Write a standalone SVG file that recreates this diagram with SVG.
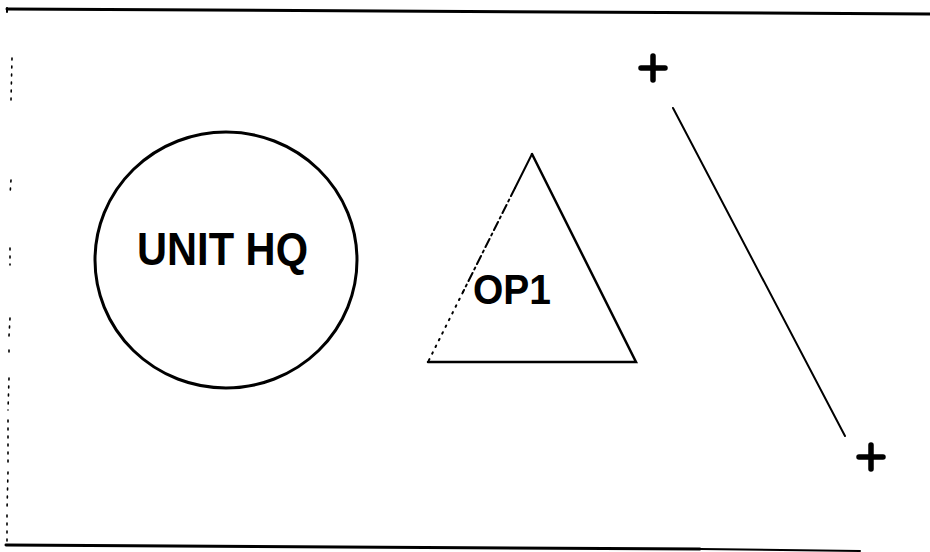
<svg xmlns="http://www.w3.org/2000/svg" width="930" height="552" viewBox="0 0 930 552">
<style>
.ln{stroke:#000;fill:none;stroke-linecap:round}
.lbl{font-family:"Liberation Sans",Arial,sans-serif;font-weight:bold;fill:#000}
.plus{stroke:#000;stroke-width:5.5;stroke-linecap:round}
</style>
<rect width="930" height="552" fill="#fff"/>
<g id="frame">
<path class="ln" d="M7 9 L930 14" stroke-width="3"/>
<path class="ln" d="M7 8 L7 12" stroke-width="2"/>
<path class="ln" d="M6 545 L700 549" stroke-width="3"/>
<path class="ln" d="M700 549 L860 551" stroke-width="2" stroke="#555"/>
<path class="ln" d="M12 58 L11 100 M11 180 L10 195 M10 248 L10 265 M10 318 L9 336 M9 350 L9 356 M9 378 L8 410 M8 420 L8 465 M8 472 L7 510 M7 515 L7 545" stroke-width="1.6" stroke-dasharray="2 6"/>
</g>
<g id="unit-hq">
<ellipse class="ln" cx="226" cy="260" rx="131" ry="128" stroke-width="3"/>
<text class="lbl" x="137" y="265" font-size="47" textLength="171" lengthAdjust="spacingAndGlyphs">UNIT HQ</text>
</g>
<g id="op1">
<path class="ln" d="M532 154 L636 362 L428 362" stroke-width="2.5"/>
<path class="ln" d="M532 154 L515 188" stroke-width="2"/>
<path class="ln" d="M515 188 L463 292" stroke-width="2" stroke-dasharray="9 4 2 4"/>
<path class="ln" d="M463 292 L428 362" stroke-width="2" stroke-dasharray="1.5 6"/>
<text class="lbl" x="473" y="304" font-size="42" textLength="78" lengthAdjust="spacingAndGlyphs">OP1</text>
</g>
<g id="connectors">
<path class="ln" d="M673 108 L845 436" stroke-width="2"/>
</g>
<g id="point-a">
<path class="plus" d="M641 68 L665 68 M653 56 L653 80"/>
</g>
<g id="point-b">
<path class="plus" d="M859 457 L883 457 M871 445 L871 469"/>
</g>
</svg>
